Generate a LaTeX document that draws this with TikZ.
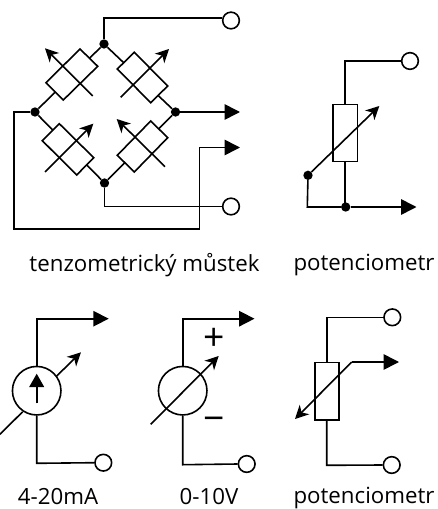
\documentclass[tikz,border=0pt]{standalone}
\usepackage{fontspec}
\setmainfont{Open Sans}
\usetikzlibrary{arrows.meta}
\tikzset{
  x=0.75pt,y=-0.75pt,
  wire/.style={line width=1.2pt,line join=miter},
  body/.style={line width=1.2pt,fill=white},
  bigtip/.style={wire,-{Triangle[length=11.5pt,width=11.5pt]}},
  smalltip/.style={wire,-{Stealth[length=10pt,width=10pt,inset=3pt]}},
  port/.style={circle,draw,line width=1.2pt,fill=white,minimum size=12.5pt,inner sep=0pt},
  dot/.style={circle,fill=black,minimum size=7pt,inner sep=0pt},
  lab/.style={font=\fontsize{16.7pt}{18pt}\selectfont,inner sep=0pt},
  sign/.style={font=\fontsize{28pt}{28pt}\selectfont,inner sep=0pt},
}
\begin{document}
\begin{tikzpicture}
\useasboundingbox (0,0) rectangle (437,509);
% bridge
\node[dot] (t) at (104,44) {};
\node[dot] (l) at (35,112) {};
\node[dot] (r) at (175.5,112) {};
\node[dot] (b) at (104.5,183) {};
\node[port] (p1) at (231,20.5) {};
\node[port] (p2) at (231,206.5) {};
\coordinate (t1) at (104,18);
\coordinate (b1) at (104.5,206.5);
\coordinate (ra) at (240,112);
\coordinate (ra2) at (240,147.5);
\coordinate (c1) at (14,112);
\coordinate (c2) at (14,229);
\coordinate (c3) at (199.5,229);
\coordinate (c4) at (199.5,147.5);
\draw[wire] (t) -- (t1) -- (t1 -| p1.west);
\draw[wire] (b) -- (b1) -- (p2.west);
\draw[bigtip] (r) -- (ra);
\draw[bigtip] (l) -- (c1) -- (c2) -- (c3) -- (c4) -- (ra2);
\draw[wire] (t) -- (l) (t) -- (r) (b) -- (l) (b) -- (r);
\draw[body] (80,49) -- (97.7,66.3) -- (63.3,100) -- (46,82.7) -- cycle;
\draw[body] (134.3,52.3) -- (117.3,69) -- (150.7,102.7) -- (167.7,86) -- cycle;
\draw[body] (59.3,123.7) -- (42.3,140.7) -- (76.7,175) -- (93.7,157.7) -- cycle;
\draw[body] (150.7,121) -- (167.7,137.7) -- (134.3,172) -- (117.3,155.3) -- cycle;
\draw[smalltip] (92.7,96) -- (45,48.3);
\draw[smalltip] (120.7,97.3) -- (169,49);
\draw[smalltip] (45,172) -- (93.3,123.7);
\draw[smalltip] (165,166.7) -- (116.7,119);
\node[lab] (n1) at (144.5,265) {tenzometrický můstek};
% potentiometer 1
\node[port] (p3) at (410,61) {};
\node[dot] (d1) at (308,175.3) {};
\node[dot] (d2) at (345.7,207) {};
\node[draw,body,minimum width=18.2pt,minimum height=42.8pt,inner sep=0pt] (rr) at (345.2,133) {};
\coordinate (a1) at (345,61);
\coordinate (a2) at (307.3,207);
\coordinate (a3) at (416.5,207);
\coordinate (a4) at (379.3,106);
\draw[wire] (p3) -- (a1) -- (a1 |- rr.north);
\draw[wire] (a1 |- rr.south) -- (a1 |- d2);
\draw[wire] (d1) -- (a2) -- (d2);
\draw[bigtip] (d2) -- (a3);
\draw[smalltip] (d1) -- (a4);
\node[lab] (n2) at (364,265) {potenciometr};
% 4-20mA
\node[port] (p4) at (103.3,462.7) {};
\node[circle,draw,body,minimum size=36.4pt,inner sep=0pt] (s1) at (36.7,390.7) {};
\coordinate (e1) at (36.7,318.7);
\coordinate (e2) at (108.7,318.7);
\coordinate (e3) at (36.7,463.3);
\coordinate (e4) at (0,434.3);
\coordinate (e5) at (22.7,411.7);
\coordinate (e6) at (56.7,376);
\coordinate (e7) at (81,352.3);
\coordinate (e8) at (36.7,403.3);
\coordinate (e9) at (36.7,373.7);
\draw[bigtip] (s1.north) -- (e1) -- (e2);
\draw[wire] (s1.south) -- (e3) -- (p4.west);
\draw[wire] (e4) -- (e5);
\draw[smalltip] (e6) -- (e7);
\draw[wire,-{Triangle[length=10pt,width=11pt]}] (e8) -- (e9);
\node[lab] (n3) at (58,497) {4-20mA};
% 0-10V
\node[port] (p5) at (246.7,464) {};
\node[circle,draw,body,minimum size=36.4pt,inner sep=0pt] (s2) at (182.7,390.7) {};
\coordinate (f1) at (182.7,318.7);
\coordinate (f2) at (254.5,318.7);
\coordinate (f3) at (182.7,464.7);
\coordinate (f4) at (150.7,424.3);
\coordinate (f5) at (218.7,356);
\draw[bigtip] (s2.north) -- (f1) -- (f2);
\draw[wire] (s2.south) -- (f3) -- (p5.west);
\draw[smalltip] (f4) -- (f5);
\node[sign] (pl) at (214,339) {+};
\node[sign] (mi) at (214,424) {−};
\node[lab] (n4) at (209,497) {0-10V};
% potentiometer 2
\node[port] (p6) at (392.3,317.3) {};
\node[port] (p7) at (391.7,465) {};
\node[draw,body,minimum width=18.2pt,minimum height=43pt,inner sep=0pt] (rs) at (327,391.3) {};
\coordinate (g1) at (326.7,317.3);
\coordinate (g2) at (326.7,465.3);
\coordinate (g3) at (351.7,362);
\coordinate (g4) at (399,362);
\coordinate (g5) at (295,419);
\draw[wire] (p6) -- (g1) -- (g1 |- rs.north);
\draw[wire] (g1 |- rs.south) -- (g2) -- (p7.west);
\draw[bigtip] (g3) -- (g4);
\draw[smalltip] (g3) -- (g5);
\node[lab] (n5) at (364,497.5) {potenciometr};
\end{tikzpicture}
\end{document}
